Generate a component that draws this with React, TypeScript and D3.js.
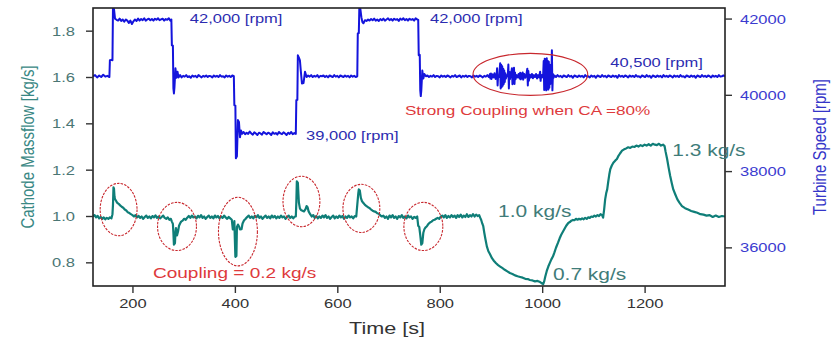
import * as d3 from "d3";

// Time [s] / Cathode massflow [kg/s] / Turbine speed [rpm]
const timeTicks = [200, 400, 600, 800, 1000, 1200];
const flowTicks = [0.8, 1.0, 1.2, 1.4, 1.6, 1.8];
const speedTicks = [36000, 38000, 40000, 42000];

// turbine speed trace
const speedData: [number, number][] = [
  [122, 40500], [126, 40530], [130, 40470], [134, 40520], [138, 40480], [142, 40540], [146, 40490], [150, 40510], [154, 40480],
  [155, 40920], [158, 40930], [160, 40920], [161, 42290], [163, 42260], [165, 42010], [168, 41980], [171, 41960], [174, 42010],
  [177, 41950], [180, 41990], [183, 41930], [186, 41990], [189, 41960], [192, 41900], [195, 41960], [198, 41870], [201, 41940],
  [204, 41990], [207, 41950], [210, 42010], [213, 41960], [216, 42000], [219, 41970], [222, 42020], [225, 41960], [228, 41990],
  [231, 42010], [234, 41970], [237, 42000], [240, 41960], [243, 42010], [246, 41980], [249, 42020], [252, 41970], [255, 41990],
  [258, 42010], [261, 41960], [264, 42000], [267, 41980], [270, 42020], [273, 41960], [275, 41990], [276, 41310], [278, 41300],
  [279, 40180], [280, 40050], [281, 40200], [283, 40710], [285, 40460], [287, 40620], [289, 40470], [292, 40530], [295, 40470],
  [298, 40510], [301, 40490], [304, 40530], [307, 40480], [310, 40500], [313, 40460], [316, 40520], [319, 40490], [322, 40510],
  [325, 40470], [328, 40530], [331, 40500], [334, 40470], [337, 40510], [340, 40490], [343, 40520], [346, 40480], [349, 40510],
  [352, 40500], [355, 40470], [358, 40520], [361, 40490], [364, 40510], [367, 40480], [370, 40530], [373, 40490], [376, 40500],
  [379, 40470], [382, 40520], [385, 40490], [388, 40510], [391, 40480], [394, 40520], [397, 40500], [398, 39740], [400, 39730],
  [401, 38350], [403, 38400], [405, 39350], [407, 39300], [409, 38900], [411, 39080], [413, 38990], [416, 39040], [419, 38980],
  [422, 39020], [425, 38990], [428, 39050], [431, 39000], [434, 38970], [437, 39030], [440, 39000], [443, 38960], [446, 39020],
  [449, 39000], [452, 38970], [455, 39040], [458, 39010], [461, 38980], [464, 39020], [467, 39000], [470, 38960], [473, 39030],
  [476, 38990], [479, 39010], [482, 38970], [485, 39040], [488, 39000], [491, 38980], [494, 39030], [497, 39000], [500, 38960],
  [503, 39020], [506, 38990], [509, 39040], [512, 38980], [515, 39010], [518, 38990], [519, 39870], [521, 39880], [522, 41050],
  [524, 40990], [526, 40920], [528, 40600], [530, 40310], [533, 40320], [536, 40620], [539, 40480], [542, 40520], [545, 40490],
  [548, 40530], [551, 40480], [554, 40510], [557, 40490], [560, 40530], [563, 40470], [566, 40510], [569, 40500], [572, 40520],
  [575, 40480], [578, 40510], [581, 40470], [584, 40520], [587, 40500], [590, 40480], [593, 40530], [596, 40490], [599, 40510],
  [602, 40470], [605, 40520], [608, 40500], [611, 40480], [614, 40520], [617, 40490], [620, 40510], [623, 40470], [626, 40520],
  [629, 40490], [632, 40510], [635, 40480], [638, 40500], [639, 41620], [641, 41630], [642, 42290], [644, 42270], [646, 42050],
  [648, 41920], [650, 41890], [653, 41970], [656, 41950], [659, 41990], [662, 41960], [665, 42000], [668, 41970], [671, 42010],
  [674, 41960], [677, 41990], [680, 41950], [683, 42000], [686, 41970], [689, 42010], [692, 41960], [695, 41990], [698, 42020],
  [701, 41970], [704, 42000], [707, 41960], [710, 42010], [713, 41980], [716, 42000], [719, 41950], [722, 42010], [725, 41980],
  [728, 42020], [731, 41970], [734, 42000], [737, 41960], [740, 42010], [743, 41980], [746, 42000], [749, 41960], [752, 42020],
  [755, 41990], [757, 41980], [758, 41050], [760, 41060], [761, 40130], [762, 39980], [763, 40120], [765, 40650], [767, 40440],
  [769, 40560], [772, 40500], [775, 40520], [778, 40480], [781, 40510], [784, 40490], [787, 40530], [790, 40480], [793, 40510],
  [796, 40500], [799, 40470], [802, 40520], [805, 40490], [808, 40510], [811, 40480], [814, 40520], [817, 40500], [820, 40470],
  [823, 40510], [826, 40490], [829, 40530], [832, 40480], [835, 40500], [838, 40520], [841, 40470], [844, 40510], [847, 40490],
  [850, 40520], [853, 40480], [856, 40510], [859, 40500], [862, 40470], [865, 40520], [868, 40490], [871, 40510], [874, 40480],
  [877, 40520], [880, 40500], [883, 40470], [886, 40510], [889, 40490], [892, 40530], [895, 40480],
  // strong coupling burst
  [897, 40560], [898, 40440], [899, 40570], [900, 40430], [902, 40550], [904, 40470], [906, 40580], [908, 40430], [910, 40520],
  [911, 40710], [912, 40260], [913, 40520], [915, 40480], [917, 40840], [918, 40180], [919, 40800], [920, 40220], [921, 40760],
  [922, 40250], [923, 40700], [924, 40300], [925, 40650], [926, 40350], [927, 40580], [928, 40440], [930, 40510], [932, 40560],
  [933, 40810], [934, 40180], [935, 40620], [936, 40420], [938, 40540], [940, 40710], [941, 40290], [942, 40660], [943, 40330],
  [944, 40720], [945, 40300], [946, 40600], [947, 40420], [949, 40530], [951, 40470], [953, 40560], [955, 40440], [956, 40590],
  [957, 40420], [958, 40570], [959, 40440], [961, 40600], [962, 40410], [964, 40560], [966, 40460], [968, 40520], [970, 40700],
  [971, 40260], [972, 40640], [973, 40380], [975, 40540], [977, 40470], [979, 40560], [981, 40450], [983, 40530], [985, 40480],
  [987, 40560], [989, 40440], [991, 40530], [993, 40470], [995, 40620], [996, 40380], [997, 40540], [999, 40470], [1001, 40560],
  [1002, 40900], [1003, 40140], [1004, 40960], [1005, 40160], [1006, 40930], [1007, 40130], [1008, 40970], [1009, 40180],
  [1010, 40900], [1011, 40150], [1012, 40880], [1013, 40200], [1014, 40800], [1015, 40300], [1016, 40620], [1017, 40420],
  [1018, 41180], [1019, 40130], [1020, 40560], [1021, 40460], [1023, 40520],
  [1026, 40480], [1029, 40530], [1032, 40490], [1035, 40510], [1038, 40470], [1041, 40520], [1044, 40500], [1047, 40480],
  [1050, 40530], [1053, 40490], [1056, 40510], [1059, 40460], [1062, 40520], [1065, 40500], [1068, 40480], [1071, 40520],
  [1074, 40490], [1077, 40510], [1080, 40470], [1083, 40530], [1086, 40490], [1089, 40500], [1092, 40470], [1095, 40520],
  [1098, 40490], [1101, 40510], [1104, 40460], [1107, 40520], [1110, 40500], [1113, 40480], [1116, 40530], [1119, 40490],
  [1122, 40510], [1125, 40470], [1128, 40520], [1131, 40500], [1134, 40480], [1137, 40520], [1140, 40490], [1143, 40510],
  [1146, 40460], [1149, 40530], [1152, 40490], [1155, 40510], [1158, 40480], [1161, 40520], [1164, 40500], [1167, 40470],
  [1170, 40520], [1173, 40490], [1176, 40510], [1179, 40480], [1182, 40530], [1185, 40490], [1188, 40500], [1191, 40470],
  [1194, 40520], [1197, 40500], [1200, 40480], [1203, 40530], [1206, 40490], [1209, 40510], [1212, 40460], [1215, 40520],
  [1218, 40500], [1221, 40480], [1224, 40520], [1227, 40490], [1230, 40510], [1233, 40470], [1236, 40530], [1239, 40490],
  [1242, 40510], [1245, 40480], [1248, 40520], [1251, 40500], [1254, 40470], [1257, 40520], [1260, 40490], [1263, 40510],
  [1266, 40480], [1269, 40530], [1272, 40490], [1275, 40500], [1278, 40470], [1281, 40520], [1284, 40500], [1287, 40480],
  [1290, 40520], [1293, 40490], [1296, 40510], [1299, 40460], [1302, 40520], [1305, 40500], [1308, 40480], [1311, 40530],
  [1314, 40490], [1317, 40510], [1320, 40480], [1323, 40520], [1326, 40500], [1329, 40470], [1332, 40520], [1335, 40490],
  [1338, 40510], [1341, 40480], [1344, 40530], [1347, 40490], [1350, 40500], [1353, 40520], [1356, 40500],
];

// cathode massflow trace
const flowData: [number, number][] = [
  [122, 1.0], [125, 1.006], [128, 0.996], [131, 1.003], [134, 0.992], [137, 0.998], [140, 0.99], [143, 0.996], [146, 0.988],
  [149, 0.994], [152, 0.99], [155, 0.996], [158, 0.992], [160, 1.01], [161, 1.05], [162, 1.126], [163, 1.12], [164, 1.085],
  [165, 1.075], [167, 1.068], [169, 1.06], [172, 1.055], [175, 1.048], [178, 1.042], [181, 1.038], [184, 1.03], [187, 1.026],
  [190, 1.018], [193, 1.015], [196, 1.01], [199, 1.006], [202, 1.0], [205, 1.006], [208, 0.996], [211, 1.003], [214, 0.994],
  [217, 1.0], [220, 0.99], [223, 0.998], [226, 1.004], [229, 0.994], [232, 1.0], [235, 0.992], [238, 1.002], [241, 0.996],
  [244, 1.005], [247, 0.994], [250, 1.0], [253, 0.992], [256, 0.998], [259, 1.004], [262, 0.994], [265, 0.99], [268, 0.996],
  [271, 0.986], [274, 0.99], [276, 0.978], [278, 0.968], [279, 0.93], [280, 0.878], [282, 0.885], [283, 0.93], [284, 0.95],
  [286, 0.918], [288, 0.935], [290, 0.96], [292, 0.97], [294, 0.978], [297, 0.982], [300, 0.99], [303, 0.986], [306, 0.995],
  [309, 1.002], [312, 0.994], [315, 1.004], [318, 0.996], [321, 1.0], [324, 0.992], [327, 1.003], [330, 0.996], [333, 1.006],
  [336, 0.994], [339, 1.0], [342, 0.99], [345, 0.998], [348, 1.004], [351, 0.994], [354, 1.0], [357, 0.992], [360, 1.004],
  [363, 0.996], [366, 1.002], [369, 0.992], [372, 1.0], [375, 0.994], [378, 1.004], [381, 0.996], [384, 0.99], [387, 0.998],
  [390, 0.992], [393, 0.986], [395, 0.944], [397, 0.95], [398, 0.98], [399, 0.9], [400, 0.826], [402, 0.83], [403, 0.955],
  [405, 0.965], [407, 0.958], [409, 0.944], [412, 0.945], [414, 0.97], [417, 0.984], [420, 0.99], [423, 0.998], [426, 1.004],
  [429, 0.994], [432, 1.0], [435, 0.992], [438, 1.003], [441, 0.996], [444, 1.006], [447, 0.994], [450, 1.0], [453, 0.99],
  [456, 0.998], [459, 1.004], [462, 0.994], [465, 1.0], [468, 0.992], [471, 1.004], [474, 0.996], [477, 1.002], [480, 0.992],
  [483, 1.0], [486, 0.994], [489, 1.004], [492, 0.996], [495, 1.0], [498, 0.99], [501, 0.998], [504, 1.004], [507, 0.994],
  [510, 1.0], [513, 0.992], [516, 1.0], [518, 1.0], [519, 1.06], [520, 1.152], [522, 1.145], [523, 1.1], [524, 1.06],
  [526, 1.035], [528, 1.028], [531, 1.025], [534, 1.022], [537, 1.032], [539, 1.045], [541, 1.04], [543, 1.022], [546, 1.01],
  [549, 1.0], [552, 1.006], [555, 0.994], [558, 1.002], [561, 0.992], [564, 1.0], [567, 0.994], [570, 1.004], [573, 0.996],
  [576, 1.006], [579, 0.994], [582, 1.0], [585, 0.99], [588, 0.998], [591, 1.004], [594, 0.992], [597, 1.0], [600, 0.994],
  [603, 1.004], [606, 0.996], [609, 1.002], [612, 0.99], [615, 1.0], [618, 0.994], [621, 1.004], [624, 0.996], [627, 1.0],
  [630, 0.992], [633, 1.002], [636, 1.0], [638, 1.05], [640, 1.1], [641, 1.117], [643, 1.112], [645, 1.08], [647, 1.067],
  [650, 1.058], [653, 1.05], [656, 1.045], [659, 1.04], [662, 1.036], [665, 1.03], [668, 1.025], [671, 1.022], [674, 1.02],
  [677, 1.014], [680, 1.012], [683, 1.005], [686, 1.0], [689, 1.004], [692, 0.994], [695, 1.0], [698, 0.99], [701, 1.004],
  [704, 0.996], [707, 1.006], [710, 0.994], [713, 1.0], [716, 0.99], [719, 1.002], [722, 0.996], [725, 1.006], [728, 0.994],
  [731, 1.0], [734, 0.992], [737, 1.004], [740, 0.996], [743, 1.0], [746, 0.99], [749, 0.998], [752, 0.994], [755, 1.0],
  [757, 0.96], [759, 0.955], [761, 0.92], [763, 0.878], [765, 0.885], [767, 0.93], [769, 0.945], [771, 0.952], [774, 0.958],
  [777, 0.968], [780, 0.974], [783, 0.978], [786, 0.984], [789, 0.986], [792, 0.99], [795, 0.994], [798, 0.99], [801, 1.0],
  [804, 1.004], [807, 0.996], [810, 1.006], [813, 0.994], [816, 1.002], [819, 0.996], [822, 1.006], [825, 0.998], [828, 1.004],
  [831, 0.994], [834, 1.006], [837, 0.998], [840, 1.008], [843, 0.996], [846, 1.004], [849, 0.998], [852, 1.01], [855, 0.998],
  [858, 1.006], [861, 1.0], [864, 1.01], [867, 1.0], [870, 1.008], [873, 1.002], [876, 1.006], [878, 0.995], [880, 0.985],
  [882, 0.97], [884, 0.958], [886, 0.93], [888, 0.905], [891, 0.871], [894, 0.85], [897, 0.838], [901, 0.82], [905, 0.808],
  [909, 0.798], [913, 0.79], [917, 0.784], [921, 0.778], [926, 0.77], [931, 0.763], [936, 0.756], [941, 0.752], [946, 0.746],
  [951, 0.742], [956, 0.739], [961, 0.736], [966, 0.731], [971, 0.73], [975, 0.726], [980, 0.724], [985, 0.72], [990, 0.722],
  [995, 0.717], [998, 0.712], [1001, 0.708], [1003, 0.72], [1005, 0.74], [1008, 0.765], [1011, 0.784], [1014, 0.8],
  [1017, 0.815], [1020, 0.827], [1023, 0.845], [1026, 0.865], [1030, 0.887], [1033, 0.905], [1036, 0.92], [1040, 0.936],
  [1043, 0.948], [1046, 0.96], [1050, 0.972], [1053, 0.976], [1056, 0.982], [1059, 0.985], [1062, 0.984], [1065, 0.99],
  [1068, 0.986], [1071, 0.99], [1074, 0.987], [1077, 0.992], [1080, 0.988], [1083, 0.994], [1086, 0.99], [1089, 0.996],
  [1092, 0.994], [1095, 1.0], [1098, 0.998], [1101, 1.004], [1104, 1.0], [1107, 1.006], [1110, 1.002], [1113, 1.01],
  [1116, 1.006], [1118, 0.995], [1120, 1.03], [1122, 1.074], [1124, 1.1], [1126, 1.117], [1128, 1.15], [1130, 1.18],
  [1132, 1.204], [1135, 1.22], [1138, 1.232], [1142, 1.242], [1145, 1.248], [1148, 1.262], [1151, 1.272], [1155, 1.284],
  [1159, 1.29], [1163, 1.294], [1167, 1.299], [1171, 1.296], [1175, 1.302], [1179, 1.3], [1183, 1.306], [1187, 1.302],
  [1191, 1.308], [1195, 1.304], [1199, 1.31], [1203, 1.306], [1207, 1.312], [1211, 1.306], [1215, 1.314], [1219, 1.31],
  [1223, 1.308], [1227, 1.314], [1231, 1.306], [1235, 1.31], [1238, 1.304], [1240, 1.28], [1243, 1.248], [1246, 1.21],
  [1249, 1.175], [1252, 1.145], [1255, 1.117], [1259, 1.095], [1263, 1.074], [1267, 1.06], [1272, 1.045], [1278, 1.036],
  [1284, 1.03], [1290, 1.024], [1296, 1.02], [1302, 1.016], [1308, 1.01], [1314, 1.008], [1320, 1.004], [1326, 1.006],
  [1332, 0.998], [1338, 1.004], [1344, 0.998], [1350, 1.002], [1356, 1.0],
];

// coupling rings on the massflow trace: [time, flow, halfWidth s, halfHeight kg/s]
const flowRings: [number, number, number, number][] = [
  [172, 1.03, 36, 0.113],
  [286, 0.957, 38, 0.104],
  [405, 0.935, 38, 0.148],
  [529, 1.065, 36, 0.109],
  [646, 1.035, 36, 0.104],
  [767, 0.957, 38, 0.104],
];
// strong coupling ring on the speed trace: [time, rpm, halfWidth s, halfHeight rpm]
const speedRing: [number, number, number, number] = [976, 40550, 112, 550];

const speedNotes: [number, number, string][] = [
  [311, 41890, "42,000 [rpm]"],
  [780, 41890, "42,000 [rpm]"],
  [538, 38820, "39,000 [rpm]"],
  [1132, 40735, "40,500 [rpm]"],
];
const flowNotes: [number, number, string][] = [
  [913, 1.0, "1.0 kg/s"],
  [1020, 0.726, "0.7 kg/s"],
  [1253, 1.261, "1.3 kg/s"],
];

const W = 832;
const H = 339;
const m = { left: 93, right: 725, top: 8, bottom: 286 };
const SX = 1.27; // the source image is stretched sideways
const FONT = "'Liberation Sans', Arial, sans-serif";

const BLUE = "#1414dc";
const TEAL = "#0f7e78";
const RED = "#de3a3c";

function SText({ x, y, size, fill, anchor = "start", children, rotate = false }: any) {
  const t = rotate
    ? `translate(${x},${y}) rotate(-90) scale(1,${SX})`
    : `translate(${x},${y}) scale(${SX},1)`;
  return (
    <text transform={t} fontSize={size} fill={fill} textAnchor={anchor} fontFamily={FONT}>
      {children}
    </text>
  );
}

export default function App() {
  const x = d3.scaleLinear().domain([122, 1356]).range([m.left, m.right]);
  const yFlow = d3.scaleLinear().domain([0.7, 1.9]).range([m.bottom, m.top]);
  const ySpeed = d3.scaleLinear().domain([35000, 42290]).range([m.bottom, m.top]);

  const speedLine = d3.line<[number, number]>().x((d) => x(d[0])).y((d) => ySpeed(d[1]));
  const flowLine = d3.line<[number, number]>().x((d) => x(d[0])).y((d) => yFlow(d[1]));

  return (
    <svg width={W} height={H} style={{ position: "absolute", left: 0, top: 0, background: "#fff" }}>
      <defs>
        <clipPath id="plot-clip">
          <rect x={m.left} y={m.top} width={m.right - m.left} height={m.bottom - m.top} />
        </clipPath>
      </defs>

      {/* traces */}
      <g clipPath="url(#plot-clip)">
        <path d={speedLine(speedData) ?? ""} fill="none" stroke={BLUE} strokeWidth={2} strokeLinejoin="round" />
        <path d={flowLine(flowData) ?? ""} fill="none" stroke={TEAL} strokeWidth={2.2} strokeLinejoin="round" />
      </g>

      {/* rings */}
      {flowRings.map(([t, v, dt, dv], i) => (
        <ellipse
          key={i}
          cx={x(t)}
          cy={yFlow(v)}
          rx={x(t + dt) - x(t)}
          ry={yFlow(v) - yFlow(v + dv)}
          fill="none"
          stroke="#c8282e"
          strokeWidth={1.1}
          strokeDasharray="2.5 1.2"
        />
      ))}
      <ellipse
        cx={x(speedRing[0])}
        cy={ySpeed(speedRing[1])}
        rx={x(speedRing[0] + speedRing[2]) - x(speedRing[0])}
        ry={ySpeed(speedRing[1]) - ySpeed(speedRing[1] + speedRing[3])}
        fill="none"
        stroke="#c8282e"
        strokeWidth={1.1}
      />

      {/* frame */}
      <rect
        x={m.left}
        y={m.top}
        width={m.right - m.left}
        height={m.bottom - m.top}
        fill="none"
        stroke="#222"
        strokeWidth={1.6}
      />

      {/* left axis */}
      {flowTicks.map((tk) => (
        <g key={tk}>
          <line x1={m.left - 7} x2={m.left} y1={yFlow(tk)} y2={yFlow(tk)} stroke="#333" strokeWidth={1.4} />
          <SText x={75} y={yFlow(tk) + 4.6} size={13} fill="#4b7674" anchor="end">
            {tk.toFixed(1)}
          </SText>
        </g>
      ))}
      {/* right axis */}
      {speedTicks.map((tk) => (
        <g key={tk}>
          <line x1={m.right} x2={m.right + 7} y1={ySpeed(tk)} y2={ySpeed(tk)} stroke="#333" strokeWidth={1.4} />
          <SText x={740} y={ySpeed(tk) + 4.6} size={13} fill="#3b3bcf">
            {tk}
          </SText>
        </g>
      ))}
      {/* bottom axis */}
      {timeTicks.map((tk) => (
        <g key={tk}>
          <line x1={x(tk)} x2={x(tk)} y1={m.bottom} y2={m.bottom + 7} stroke="#333" strokeWidth={1.4} />
          <SText x={x(tk)} y={308} size={13} fill="#333" anchor="middle">
            {tk}
          </SText>
        </g>
      ))}

      {/* axis titles */}
      <SText x={34} y={147} size={15} fill="#3a8884" anchor="middle" rotate>
        Cathode Massflow [kg/s]
      </SText>
      <SText x={826} y={147} size={15} fill="#3434c8" anchor="middle" rotate>
        Turbine Speed [rpm]
      </SText>
      <SText x={387} y={334} size={17} fill="#333" anchor="middle">
        Time [s]
      </SText>

      {/* annotations */}
      {speedNotes.map(([t, v, s], i) => (
        <SText key={i} x={x(t)} y={ySpeed(v)} size={13} fill="#2b2bb0">
          {s}
        </SText>
      ))}
      {flowNotes.map(([t, v, s], i) => (
        <SText key={i} x={x(t)} y={yFlow(v)} size={16.5} fill="#3f7c79">
          {s}
        </SText>
      ))}
      <SText x={x(731)} y={ySpeed(39476)} size={13.5} fill={RED}>
        Strong Coupling when CA =80%
      </SText>
      <SText x={x(239)} y={yFlow(0.735)} size={15} fill={RED}>
        Coupling = 0.2 kg/s
      </SText>
    </svg>
  );
}
